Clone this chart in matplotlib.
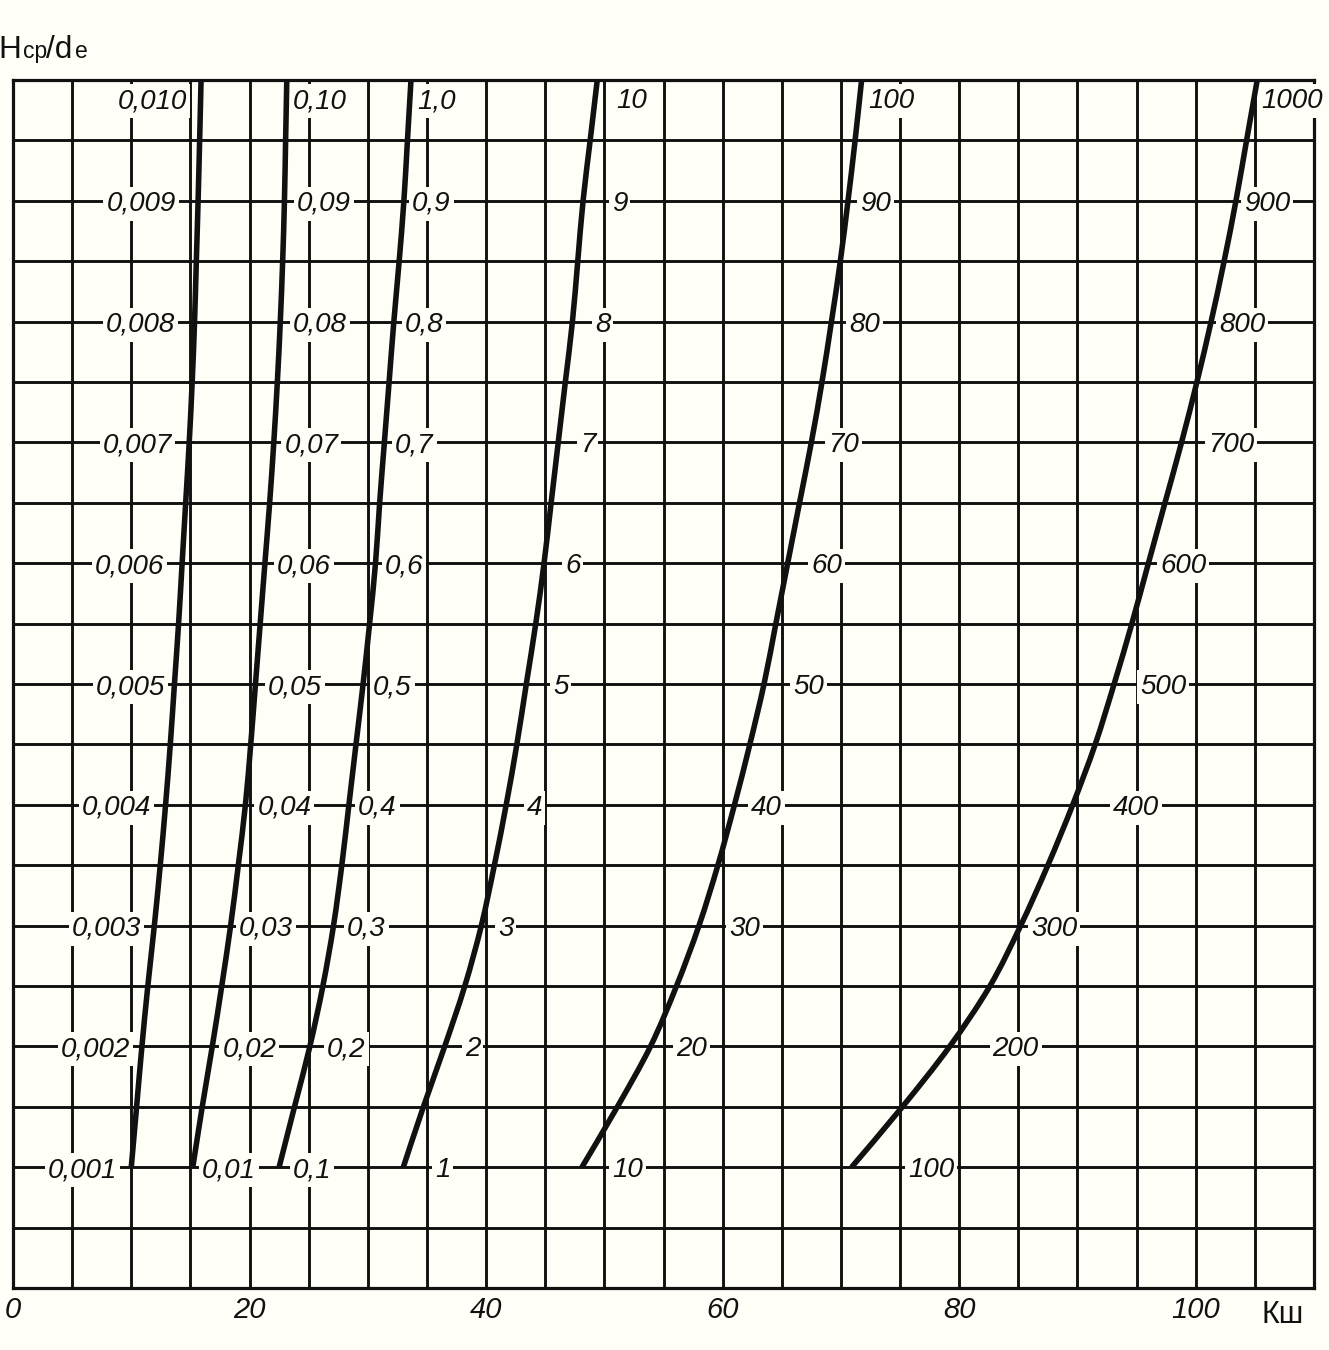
import matplotlib
matplotlib.use("Agg")
import numpy as np
import matplotlib.pyplot as plt
from matplotlib.patches import Rectangle, PathPatch
from matplotlib.path import Path
from matplotlib.transforms import IdentityTransform

# ---------------------------------------------------------------- data
# Height levels on the y axis (each curve reads 1 ... 10 times its scale)
levels = [1.0, 1.5, 2.0, 2.5, 3.0, 3.5, 4.0, 4.5, 5.0, 5.5,
          6.0, 6.5, 7.0, 7.5, 8.0, 8.5, 9.0, 9.5, 10.0]

# Кш where each curve crosses those levels
ksh_0001 = [10.0, 10.45, 10.9, 11.4, 11.95, 12.45, 12.9, 13.3, 13.65, 14.0,
            14.3, 14.6, 14.9, 15.15, 15.35, 15.5, 15.65, 15.78, 15.9]
ksh_001 = [15.2, 16.0, 16.85, 17.65, 18.4, 19.05, 19.65, 20.1, 20.5, 20.9,
           21.3, 21.7, 22.05, 22.35, 22.6, 22.8, 22.95, 23.05, 23.15]
ksh_01 = [22.5, 23.8, 25.1, 26.2, 27.1, 27.8, 28.4, 29.0, 29.6, 30.15,
          30.65, 31.0, 31.4, 31.8, 32.2, 32.65, 33.05, 33.35, 33.65]
ksh_1 = [33.0, 34.7, 36.5, 38.2, 39.6, 40.7, 41.7, 42.6, 43.4, 44.2,
         44.9, 45.5, 46.1, 46.7, 47.3, 47.75, 48.2, 48.8, 49.4]
ksh_10 = [48.1, 51.1, 53.9, 56.1, 58.0, 59.6, 61.0, 62.3, 63.5, 64.5,
          65.5, 66.5, 67.5, 68.4, 69.2, 69.95, 70.6, 71.2, 71.75]
ksh_100 = [70.9, 75.2, 79.2, 82.6, 85.2, 87.5, 89.6, 91.5, 93.1, 94.6,
           96.0, 97.4, 98.8, 100.1, 101.3, 102.4, 103.4, 104.3, 105.2]

curves = [ksh_0001, ksh_001, ksh_01, ksh_1, ksh_10, ksh_100]
curve_scale = [0.001, 0.01, 0.1, 1, 10, 100]
label_decimals = [3, 2, 1, 0, 0, 0]
label_levels = [1, 2, 3, 4, 5, 6, 7, 8, 9, 10]

x_ticks = [0, 20, 40, 60, 80, 100]
x_label = "Кш"
y_label_parts = ["H", "cp", "/d", "e"]

# -------------------------------------------------------------- layout
W, H = 1329, 1350
PAPER = "#fffef7"
INK = "#111111"
LABEL_FONT = ["Liberation Sans", "DejaVu Sans"]

# gap (Кш units) between a curve and the near edge of each of its labels;
# the first family is labelled on the left side of its curve
label_gap = [
    [-1.21, -1.01, -1.09, -1.25, -0.80, -1.50, -1.42, -1.65, -1.90, -1.17],
    [0.78, 0.86, 0.69, 1.02, 1.06, 1.02, 0.90, 1.07, 1.06, 0.54],
    [1.17, 1.45, 1.14, 0.77, 0.84, 0.80, 0.90, 0.94, 0.69, 0.64],
    [2.68, 1.72, 1.41, 1.76, 2.26, 1.77, 1.84, 1.91, 2.45, 1.77],
    [2.55, 2.17, 2.56, 1.42, 2.47, 1.99, 1.41, 1.47, 1.02, 0.70],
    [4.77, 3.63, 0.89, 3.41, 2.19, 0.98, 2.24, 0.66, 0.70, 0.64],
]
TOP_LABEL_Y = 9.85


def smooth_path(xs, ys):
    """Cubic Bezier path passing through every point (Catmull-Rom tangents)."""
    p = np.column_stack([xs, ys]).astype(float)
    ext = np.vstack([p[0], p, p[-1]])
    verts = [p[0]]
    codes = [Path.MOVETO]
    for i in range(len(p) - 1):
        p0, p1, p2, p3 = ext[i], ext[i + 1], ext[i + 2], ext[i + 3]
        verts += [p1 + (p2 - p0) / 6.0, p2 - (p3 - p1) / 6.0, p2]
        codes += [Path.CURVE4] * 3
    return Path(np.array(verts), codes)


fig = plt.figure(figsize=(W / 100, H / 100), dpi=100, facecolor=PAPER)
ax = fig.add_axes([13 / W, 1 - 1288 / H, (1314 - 13) / W, (1288 - 80) / H])
ax.set_facecolor(PAPER)
ax.set_xlim(0, 110)
ax.set_ylim(0, 10)

# grid: every 5 units of Кш, every half level in height
for gx in np.arange(5, 110, 5):
    ax.axvline(gx, color=INK, lw=2.1, zorder=2)
for gy in np.arange(0.5, 10, 0.5):
    ax.axhline(gy, color=INK, lw=2.1, zorder=2)

for name, sp in ax.spines.items():
    sp.set_linewidth(2.3)
    sp.set_color(INK)
    sp.set_zorder(6 if name in ("top", "bottom", "left") else 2.5)

# curves
for ks in curves:
    ax.add_patch(PathPatch(smooth_path(ks, levels), fill=False, edgecolor=INK,
                           lw=4.0, capstyle="butt", joinstyle="round", zorder=4))

# curve labels
label_texts = []
for ci, ks in enumerate(curves):
    for li, lv in enumerate(label_levels):
        y = TOP_LABEL_Y if lv == 10 else lv
        x = np.interp(y, levels, ks) + label_gap[ci][li]
        txt = f"{curve_scale[ci] * lv:.{label_decimals[ci]}f}".replace(".", ",")
        t = ax.annotate(txt, xy=(x, y), xytext=(0, -7.2),
                        textcoords="offset points",
                        ha="right" if ci == 0 else "left", va="baseline",
                        fontsize=20, fontstyle="italic", family=LABEL_FONT,
                        color=INK, zorder=5, annotation_clip=False)
        label_texts.append(t)

# x ticks
ax.set_xticks(x_ticks)
ax.set_xticklabels([str(v) for v in x_ticks], fontsize=21, fontstyle="italic",
                   family=LABEL_FONT, color=INK)
ax.tick_params(axis="x", length=0, pad=5.5)
ax.set_yticks([])

# axis titles
ax_font = ["Liberation Sans", "DejaVu Sans"]
fig.text(1261 / W, 1 - 1323 / H, x_label, fontsize=22, family=ax_font,
         color=INK, ha="left", va="baseline")
y_sizes = [22.7, 16.5, 22.7, 16.5]
y_xpos = [-2, 23, 46, 75]
for part, sz, xp in zip(y_label_parts, y_sizes, y_xpos):
    fig.text(xp / W, 1 - 58 / H, part, fontsize=sz, family=ax_font,
             color=INK, ha="left", va="baseline")

# white clearing behind each curve label, breaking the grid lines there
fig.canvas.draw()
renderer = fig.canvas.get_renderer()
for t in label_texts:
    bb = t.get_window_extent(renderer)
    ax.add_patch(Rectangle((bb.x0 - 3, bb.y0 - 4), bb.width + 6, bb.height + 8,
                           transform=IdentityTransform(), facecolor=PAPER,
                           edgecolor="none", zorder=3, clip_on=False))

fig.savefig("out.png", dpi=100, facecolor=PAPER)
